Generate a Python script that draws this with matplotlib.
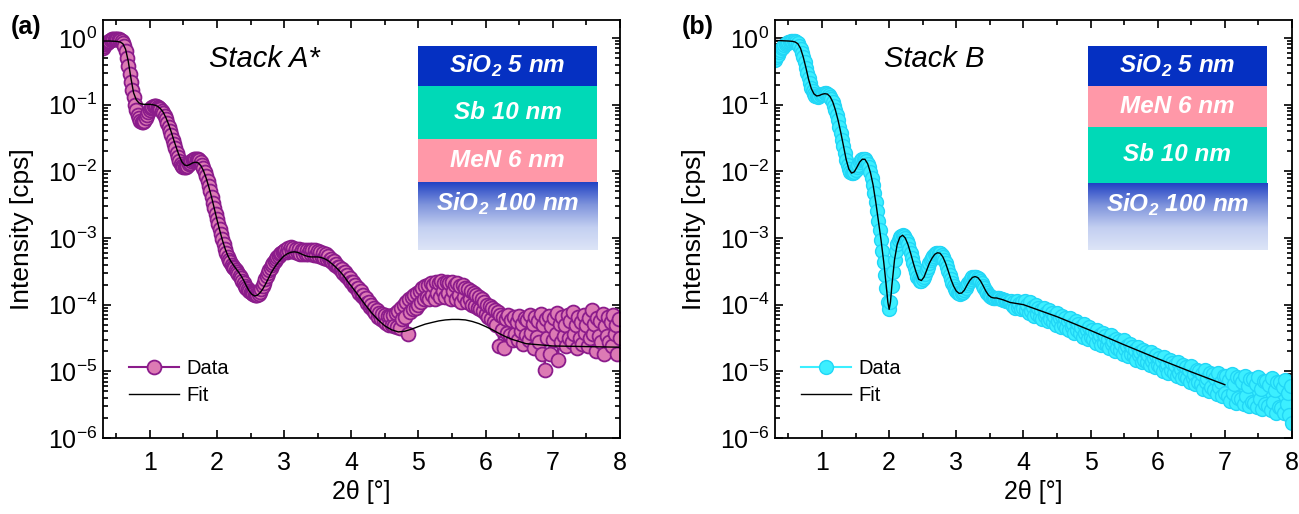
import matplotlib.pyplot as plt
import matplotlib.ticker as ticker
from matplotlib.colors import LinearSegmentedColormap
import numpy as np

plt.rcParams['font.family'] = ['Liberation Sans', 'DejaVu Sans']

# scan: 2theta from 0.30 deg in 0.02 deg steps
scan_start = 0.30
scan_step = 0.02

# ---- Stack A* : measured reflectivity (one value per scan step) ----
ya_data = [
    0.70, 0.75, 0.80, 0.84, 0.88, 0.91, 0.93, 0.95, 0.96, 0.97, 0.97, 0.96, 0.95, 0.93, 0.90, 0.85,
    0.76, 0.64, 0.50, 0.38, 0.29, 0.22, 0.165, 0.13, 0.10, 0.082, 0.070, 0.062, 0.057, 0.054, 0.054, 0.057, 0.063, 0.070, 0.077, 0.083,
    0.088, 0.092, 0.094, 0.095, 0.095, 0.093, 0.090, 0.086, 0.080, 0.074, 0.067, 0.060, 0.053, 0.046, 0.040, 0.035, 0.030, 0.026, 0.022, 0.019,
    0.0165, 0.0145, 0.013, 0.0122, 0.0118, 0.0117, 0.0118, 0.0122, 0.0128, 0.0135, 0.0142, 0.0148, 0.0152, 0.0155, 0.0155, 0.0152, 0.0147, 0.0138, 0.0126, 0.0112,
    0.0098, 0.0085, 0.0072, 0.0060, 0.0050, 0.0041, 0.0034, 0.0028, 0.0023, 0.0019, 0.0016, 0.00135, 0.00113, 0.00095, 0.00080, 0.00068, 0.00059, 0.00052, 0.00047, 0.00043,
    4.0e-4, 3.7e-4, 3.5e-4, 3.3e-4, 3.1e-4, 2.9e-4, 2.7e-4, 2.5e-4, 2.3e-4, 2.1e-4, 1.9e-4, 1.8e-4, 1.7e-4, 1.6e-4, 1.55e-4, 1.5e-4, 1.45e-4, 1.4e-4, 1.38e-4, 1.4e-4,
    1.45e-4, 1.55e-4, 1.7e-4, 1.9e-4, 2.1e-4, 2.4e-4, 2.7e-4, 3.0e-4, 3.3e-4, 3.6e-4, 3.9e-4, 4.2e-4, 4.5e-4, 4.8e-4, 5.1e-4, 5.4e-4, 5.7e-4, 5.9e-4, 6.1e-4, 6.3e-4,
    6.6e-4, 6.2e-4, 7.0e-4, 6.4e-4, 7.2e-4, 6.3e-4, 7.0e-4, 6.1e-4, 6.9e-4, 6.0e-4, 6.8e-4, 5.8e-4, 6.6e-4, 5.7e-4, 6.6e-4, 5.8e-4, 6.7e-4, 5.7e-4, 6.6e-4, 5.8e-4,
    6.6e-4, 5.6e-4, 6.5e-4, 5.5e-4, 6.4e-4, 5.4e-4, 6.2e-4, 5.2e-4, 6.0e-4, 5.0e-4, 5.7e-4, 4.8e-4, 5.3e-4, 4.6e-4, 4.9e-4, 4.3e-4, 4.5e-4, 4.0e-4, 4.1e-4, 3.7e-4,
    3.7e-4, 3.3e-4, 3.4e-4, 3.0e-4, 3.1e-4, 2.7e-4, 2.8e-4, 2.4e-4, 2.5e-4, 2.2e-4, 2.2e-4, 1.9e-4, 2.0e-4, 1.7e-4, 1.8e-4, 1.5e-4, 1.6e-4, 1.35e-4, 1.4e-4, 1.2e-4,
    1.25e-4, 1.05e-4, 1.1e-4, 9.2e-5, 1.0e-4, 8.2e-5, 9.0e-5, 7.4e-5, 8.2e-5, 6.6e-5, 7.6e-5, 6.0e-5, 7.2e-5, 5.6e-5, 7.0e-5, 5.3e-5, 6.8e-5, 5.0e-5, 6.8e-5, 5.0e-5,
    7.0e-5, 4.8e-5, 7.5e-5, 4.6e-5, 8.0e-5, 4.5e-5, 8.8e-5, 6.0e-5, 1.0e-4, 6.5e-5, 1.1e-4, 3.6e-5, 1.2e-4, 7.8e-5, 1.3e-4, 8.5e-5, 1.4e-4, 9.0e-5, 1.5e-4, 1.0e-4,
    1.6e-4, 1.1e-4, 1.8e-4, 1.2e-4, 1.9e-4, 1.3e-4, 2.0e-4, 1.2e-4, 2.1e-4, 1.4e-4, 2.0e-4, 1.2e-4, 2.2e-4, 1.5e-4, 2.1e-4, 1.3e-4, 2.3e-4, 1.6e-4, 2.1e-4, 1.3e-4,
    2.2e-4, 1.5e-4, 2.1e-4, 1.2e-4, 2.2e-4, 1.6e-4, 2.0e-4, 1.2e-4, 2.1e-4, 1.4e-4, 1.9e-4, 1.1e-4, 2.0e-4, 1.3e-4, 1.8e-4, 1.1e-4, 1.7e-4, 1.2e-4, 1.6e-4, 1.0e-4,
    1.5e-4, 9.5e-5, 1.4e-4, 9.0e-5, 1.3e-4, 8.5e-5, 1.2e-4, 8.0e-5, 1.1e-4, 7.2e-5, 1.0e-4, 6.5e-5, 9.5e-5, 6.0e-5, 8.8e-5, 5.5e-5, 8.2e-5, 5.0e-5, 7.8e-5, 2.4e-5,
    7.0e-5, 4.2e-5, 6.5e-5, 2.2e-5, 6.0e-5, 3.8e-5, 7.0e-5, 3.5e-5, 5.8e-5, 3.0e-5, 6.5e-5, 3.6e-5, 5.5e-5, 3.0e-5, 6.8e-5, 4.0e-5, 5.2e-5, 2.6e-5, 6.2e-5, 3.5e-5,
    5.8e-5, 3.0e-5, 7.0e-5, 3.8e-5, 5.2e-5, 2.2e-5, 6.5e-5, 3.3e-5, 5.6e-5, 2.8e-5, 7.2e-5, 1.8e-5, 5.0e-5, 1.05e-5, 6.0e-5, 3.2e-5, 6.8e-5, 1.8e-5, 4.8e-5, 3.0e-5,
    6.2e-5, 3.6e-5, 7.5e-5, 1.5e-5, 5.2e-5, 2.8e-5, 6.6e-5, 3.4e-5, 5.0e-5, 2.4e-5, 7.0e-5, 3.2e-5, 5.6e-5, 2.8e-5, 7.8e-5, 3.6e-5, 5.0e-5, 2.2e-5, 6.6e-5, 3.2e-5,
    5.4e-5, 2.6e-5, 7.0e-5, 3.8e-5, 5.0e-5, 2.4e-5, 6.2e-5, 3.2e-5, 8.2e-5, 3.6e-5, 5.2e-5, 2.0e-5, 6.4e-5, 3.4e-5, 5.6e-5, 2.8e-5, 7.2e-5, 1.8e-5, 4.8e-5, 3.4e-5,
    6.6e-5, 2.8e-5, 5.4e-5, 2.4e-5, 7.0e-5, 3.6e-5, 5.0e-5, 1.8e-5, 6.0e-5, 3.2e-5,
]

# ---- Stack A* : model fit ----
xa_fit = [0.30, 0.40, 0.50, 0.56, 0.60, 0.64, 0.68, 0.72, 0.76, 0.80, 0.84, 0.88, 0.92, 0.96,
          1.00, 1.04, 1.08, 1.12, 1.16, 1.20, 1.24, 1.28, 1.32, 1.36, 1.40, 1.44, 1.48, 1.52,
          1.56, 1.60, 1.64, 1.68, 1.72, 1.76, 1.80, 1.84, 1.88, 1.92, 1.96, 2.00, 2.04, 2.08,
          2.12, 2.16, 2.20, 2.24, 2.28, 2.32, 2.36, 2.40, 2.44, 2.48, 2.52, 2.56, 2.60, 2.64,
          2.68, 2.72, 2.76, 2.80, 2.84, 2.88, 2.92, 2.96, 3.00, 3.05, 3.10, 3.15, 3.20, 3.25,
          3.30, 3.35, 3.40, 3.45, 3.50, 3.55, 3.60, 3.65, 3.70, 3.75, 3.80, 3.85, 3.90, 3.95,
          4.00, 4.10, 4.20, 4.30, 4.40, 4.50, 4.60, 4.70, 4.80, 4.90, 5.00, 5.10, 5.20, 5.30,
          5.40, 5.50, 5.60, 5.70, 5.80, 5.90, 6.00, 6.10, 6.20, 6.30, 6.40, 6.50, 6.60, 6.80,
          7.00, 7.50, 8.00]
ya_fit = [0.90, 0.90, 0.89, 0.87, 0.82, 0.68, 0.45, 0.25, 0.15, 0.118, 0.106, 0.102, 0.101, 0.101,
          0.101, 0.100, 0.098, 0.094, 0.087, 0.077, 0.064, 0.051, 0.039, 0.029, 0.022, 0.017, 0.0138, 0.0124,
          0.0122, 0.0127, 0.0134, 0.0137, 0.0134, 0.0122, 0.0102, 0.0079, 0.0058, 0.0041, 0.0028, 0.0019, 0.00132, 0.00094,
          7.0e-4, 5.5e-4, 4.6e-4, 4.0e-4, 3.5e-4, 3.1e-4, 2.7e-4, 2.3e-4, 1.9e-4, 1.6e-4, 1.43e-4, 1.35e-4, 1.38e-4, 1.5e-4,
          1.7e-4, 2.0e-4, 2.4e-4, 2.9e-4, 3.4e-4, 3.9e-4, 4.4e-4, 4.9e-4, 5.4e-4, 5.8e-4, 6.1e-4, 6.2e-4, 6.1e-4, 5.8e-4,
          5.5e-4, 5.3e-4, 5.2e-4, 5.2e-4, 5.2e-4, 5.1e-4, 4.9e-4, 4.6e-4, 4.2e-4, 3.8e-4, 3.4e-4, 3.0e-4, 2.6e-4, 2.2e-4,
          1.9e-4, 1.4e-4, 1.02e-4, 7.6e-5, 5.9e-5, 4.8e-5, 4.2e-5, 3.9e-5, 4.0e-5, 4.3e-5, 4.7e-5, 5.1e-5, 5.4e-5, 5.7e-5,
          5.9e-5, 6.0e-5, 6.0e-5, 5.9e-5, 5.6e-5, 5.2e-5, 4.7e-5, 4.2e-5, 3.7e-5, 3.3e-5, 3.0e-5, 2.8e-5, 2.6e-5, 2.5e-5,
          2.4e-5, 2.35e-5, 2.3e-5]

# ---- Stack B : measured reflectivity (one value per scan step) ----
yb_data = [
    0.47, 0.51, 0.56, 0.61, 0.66, 0.70, 0.74, 0.78, 0.81, 0.84, 0.86, 0.88, 0.89, 0.90, 0.90, 0.89,
    0.87, 0.83, 0.77, 0.69, 0.60, 0.51, 0.43, 0.36, 0.30, 0.25, 0.21, 0.18, 0.16, 0.145, 0.137, 0.133, 0.132, 0.134, 0.138, 0.142,
    0.145, 0.147, 0.147, 0.145, 0.140, 0.132, 0.122, 0.110, 0.097, 0.083, 0.070, 0.058, 0.047, 0.038, 0.030, 0.024, 0.019, 0.015, 0.0125, 0.0108,
    0.0098, 0.0094, 0.0094, 0.0098, 0.0105, 0.0115, 0.0126, 0.0137, 0.0146, 0.0152, 0.0154, 0.0151, 0.0143, 0.0130, 0.0115, 0.0097, 0.0080, 0.0063, 0.0048, 0.0035,
    0.0025, 0.0018, 0.0013, 9.2e-4, 6.4e-4, 4.3e-4, 2.8e-4, 1.8e-4, 1.1e-4, 8.5e-5, 1.1e-4, 1.9e-4, 3.1e-4, 4.7e-4, 6.4e-4, 8.0e-4, 9.3e-4, 1.03e-3, 1.08e-3, 1.1e-3,
    1.07e-3, 1.0e-3, 9.1e-4, 8.0e-4, 6.9e-4, 5.9e-4, 5.0e-4, 4.2e-4, 3.6e-4, 3.1e-4, 2.6e-4, 2.4e-4, 2.3e-4, 2.3e-4, 2.4e-4, 2.6e-4, 2.9e-4, 3.3e-4, 3.7e-4, 4.2e-4,
    4.6e-4, 5.0e-4, 5.4e-4, 5.7e-4, 5.9e-4, 6.0e-4, 6.0e-4, 5.9e-4, 5.6e-4, 5.2e-4, 4.7e-4, 4.2e-4, 3.7e-4, 3.2e-4, 2.8e-4, 2.4e-4, 2.1e-4, 1.9e-4, 1.7e-4, 1.6e-4,
    1.52e-4, 1.48e-4, 1.47e-4, 1.49e-4, 1.55e-4, 1.65e-4, 1.8e-4, 1.96e-4, 2.13e-4, 2.3e-4, 2.45e-4, 2.56e-4, 2.62e-4, 2.64e-4, 2.62e-4, 2.55e-4, 2.43e-4, 2.28e-4, 2.1e-4, 1.92e-4,
    1.75e-4, 1.6e-4, 1.48e-4, 1.39e-4, 1.33e-4, 1.29e-4, 1.27e-4, 1.26e-4, 1.26e-4, 1.26e-4, 1.25e-4, 1.24e-4, 1.22e-4, 1.2e-4, 1.18e-4, 1.16e-4, 1.14e-4, 1.12e-4, 1.1e-4, 1.08e-4,
    1.13e-4, 9.5e-5, 1.08e-4, 9.0e-5, 1.14e-4, 9.2e-5, 1.01e-4, 8.6e-5, 1.08e-4, 9.0e-5,
    1.12e-4, 8.3e-5, 1.0e-4, 7.4e-5, 1.1e-4, 8.1e-5, 9.1e-5, 6.8e-5, 9.8e-5, 7.2e-5,
    9.0e-5, 6.6e-5, 8.2e-5, 6.0e-5, 9.0e-5, 6.7e-5, 7.6e-5, 5.6e-5, 8.2e-5, 6.0e-5,
    7.5e-5, 5.5e-5, 6.8e-5, 5.0e-5, 7.6e-5, 5.6e-5, 6.3e-5, 4.6e-5, 6.8e-5, 5.0e-5,
    6.2e-5, 4.5e-5, 5.7e-5, 4.1e-5, 6.3e-5, 4.7e-5, 5.2e-5, 3.8e-5, 5.6e-5, 4.1e-5,
    5.1e-5, 3.7e-5, 4.6e-5, 3.3e-5, 5.1e-5, 3.8e-5, 4.2e-5, 3.1e-5, 4.6e-5, 3.3e-5,
    4.2e-5, 3.1e-5, 3.8e-5, 2.7e-5, 4.2e-5, 3.1e-5, 3.5e-5, 2.5e-5, 3.8e-5, 2.7e-5,
    3.4e-5, 2.5e-5, 3.1e-5, 2.2e-5, 3.5e-5, 2.6e-5, 2.85e-5, 2.05e-5, 3.1e-5, 2.25e-5,
    2.85e-5, 2.1e-5, 2.6e-5, 1.85e-5, 2.9e-5, 2.15e-5, 2.4e-5, 1.7e-5, 2.6e-5, 1.85e-5,
    2.35e-5, 1.7e-5, 2.1e-5, 1.5e-5, 2.35e-5, 1.75e-5, 1.95e-5, 1.4e-5, 2.1e-5, 1.5e-5,
    1.95e-5, 1.4e-5, 1.75e-5, 1.25e-5, 1.95e-5, 1.45e-5, 1.6e-5, 1.15e-5, 1.75e-5, 1.25e-5,
    1.6e-5, 1.15e-5, 1.45e-5, 1.0e-5, 1.65e-5, 1.15e-5, 1.3e-5, 9.5e-6, 1.5e-5, 1.05e-5,
    1.35e-5, 9.5e-6, 1.25e-5, 8.5e-6, 1.4e-5, 9.5e-6, 1.1e-5, 8.0e-6, 1.25e-5, 8.5e-6,
    1.15e-5, 8.0e-6, 1.05e-5, 7.0e-6, 1.2e-5, 8.0e-6, 9.0e-6, 6.5e-6, 1.05e-5, 7.0e-6,
    1.0e-5, 6.5e-6, 9.0e-6, 5.5e-6, 1.05e-5, 6.8e-6, 8.0e-6, 5.0e-6, 9.5e-6, 5.8e-6,
    9.0e-6, 5.2e-6, 8.0e-6, 4.5e-6, 9.5e-6, 5.8e-6, 7.0e-6, 4.2e-6, 8.5e-6, 4.8e-6,
    8.5e-6, 4.2e-6, 7.5e-6, 3.6e-6, 9.0e-6, 4.8e-6, 6.5e-6, 3.4e-6, 8.2e-6, 4.0e-6,
    8.0e-6, 3.8e-6, 7.0e-6, 3.2e-6, 8.5e-6, 4.2e-6, 6.0e-6, 3.0e-6, 7.8e-6, 3.5e-6,
    7.6e-6, 3.4e-6, 6.5e-6, 2.9e-6, 8.2e-6, 3.8e-6, 5.5e-6, 2.7e-6, 7.2e-6, 3.2e-6,
    7.2e-6, 3.0e-6, 6.2e-6, 2.6e-6, 8.0e-6, 3.5e-6, 5.2e-6, 2.4e-6, 6.8e-6, 2.9e-6,
    6.8e-6, 2.8e-6, 5.8e-6, 2.4e-6, 7.5e-6, 3.2e-6, 4.8e-6, 2.2e-6, 6.0e-6, 1.7e-6,
]

# ---- Stack B : model fit ----
xb_fit = [0.30, 0.40, 0.50, 0.56, 0.60, 0.64, 0.68, 0.72, 0.76, 0.80, 0.84, 0.88, 0.92, 0.96,
          1.00, 1.04, 1.08, 1.12, 1.16, 1.20, 1.24, 1.28, 1.32, 1.36, 1.40, 1.44, 1.48, 1.52,
          1.56, 1.60, 1.64, 1.68, 1.72, 1.76, 1.80, 1.84, 1.88, 1.92, 1.96, 1.98, 2.00, 2.02,
          2.04, 2.08, 2.12, 2.16, 2.20, 2.24, 2.28, 2.32, 2.36, 2.40, 2.44, 2.48, 2.52, 2.56,
          2.60, 2.64, 2.68, 2.72, 2.76, 2.80, 2.84, 2.88, 2.92, 2.96, 3.00, 3.04, 3.08, 3.12,
          3.16, 3.20, 3.24, 3.28, 3.32, 3.36, 3.40, 3.44, 3.48, 3.52, 3.56, 3.60, 3.70, 3.80,
          4.00, 4.50, 5.00, 5.50, 6.00, 6.50, 7.00]
yb_fit = [0.92, 0.91, 0.90, 0.89, 0.87, 0.82, 0.70, 0.52, 0.36, 0.24, 0.175, 0.145, 0.135, 0.137,
          0.143, 0.146, 0.144, 0.132, 0.110, 0.083, 0.058, 0.038, 0.024, 0.015, 0.0108, 0.0094, 0.0098, 0.0115,
          0.0137, 0.0152, 0.0151, 0.0130, 0.0097, 0.0063, 0.0035, 0.0018, 9.2e-4, 4.3e-4, 1.8e-4, 1.1e-4, 8.5e-5, 1.1e-4,
          1.9e-4, 4.7e-4, 8.0e-4, 1.03e-3, 1.1e-3, 1.0e-3, 8.0e-4, 5.9e-4, 4.2e-4, 3.1e-4, 2.4e-4, 2.3e-4, 2.6e-4, 3.3e-4,
          4.2e-4, 5.0e-4, 5.7e-4, 6.0e-4, 5.9e-4, 5.2e-4, 4.2e-4, 3.2e-4, 2.4e-4, 1.9e-4, 1.6e-4, 1.48e-4, 1.49e-4, 1.65e-4,
          1.96e-4, 2.3e-4, 2.56e-4, 2.64e-4, 2.55e-4, 2.28e-4, 1.92e-4, 1.6e-4, 1.39e-4, 1.29e-4, 1.26e-4, 1.26e-4, 1.18e-4, 1.08e-4,
          1.0e-4, 6.6e-5, 4.1e-5, 2.5e-5, 1.55e-5, 9.8e-6, 6.3e-6]

# axis ticks
x_major = [1, 2, 3, 4, 5, 6, 7, 8]
x_minor = [0.5, 1.5, 2.5, 3.5, 4.5, 5.5, 6.5, 7.5]
y_decades = [1e-6, 1e-5, 1e-4, 1e-3, 1e-2, 1e-1, 1e0]

# layer stacks: (label, colour, relative thickness drawn); None -> substrate gradient
layers_a = [('SiO$_\\mathregular{2}$ 5 nm', '#0530c2', 40),
            ('Sb 10 nm', '#00d9b7', 53),
            ('MeN 6 nm', '#ff98a8', 43),
            ('SiO$_\\mathregular{2}$ 100 nm', None, 68)]
layers_b = [('SiO$_\\mathregular{2}$ 5 nm', '#0530c2', 40),
            ('MeN 6 nm', '#ff98a8', 41),
            ('Sb 10 nm', '#00d9b7', 56),
            ('SiO$_\\mathregular{2}$ 100 nm', None, 67)]

xa_data = np.round(scan_start + scan_step * np.arange(len(ya_data)), 2)
xb_data = np.round(scan_start + scan_step * np.arange(len(yb_data)), 2)

W, H = 1299, 514
fig = plt.figure(figsize=(W / 100, H / 100), dpi=100)
ax_a = fig.add_axes([102.7 / W, (H - 438) / H, 517.3 / W, 418 / H])
ax_b = fig.add_axes([775 / W, (H - 438) / H, 517 / W, 418 / H])

sio2_cmap = LinearSegmentedColormap.from_list(
    'sio2', ['#2142c4', '#7f94dc', '#c3cff1', '#dde5f7'])


def draw_stack(ax, layers, x0):
    box = ax.inset_axes([x0, 0.45, 0.347, 0.488])
    total = sum(l[2] for l in layers)
    box.axis('off')
    top = total
    for label, col, h in layers:
        if col is None:
            grad = np.linspace(0, 1, 256).reshape(-1, 1)
            box.imshow(grad, aspect='auto', cmap=sio2_cmap,
                       extent=[0, 1, top - h, top], origin='upper')
            ty = top - 0.33 * h
        else:
            box.add_patch(plt.Rectangle((0, top - h), 1, h, color=col, lw=0))
            ty = top - h / 2
        box.text(0.5, ty, label, ha='center', va='center', color='white',
                 fontsize=17.5, fontweight='bold', fontstyle='italic')
        top -= h
    box.set_xlim(0, 1)
    box.set_ylim(0, total)


def style_axes(ax):
    ax.set_yscale('log')
    ax.set_xticks(x_major)
    ax.set_xticks(x_minor, minor=True)
    ax.set_yticks(y_decades)
    minors = [m * d for d in y_decades[:-1] for m in range(2, 10)]
    ax.set_yticks(minors, minor=True)
    ax.yaxis.set_minor_formatter(ticker.NullFormatter())
    ax.set_xlim(0.3, 8)
    ax.set_ylim(1e-6, 1.86)
    ax.tick_params(which='both', direction='in', top=True, right=True, width=1.2)
    ax.tick_params(which='major', length=6, labelsize=18)
    ax.tick_params(axis='y', which='major', pad=4)
    ax.tick_params(axis='x', which='major', pad=9)
    ax.tick_params(which='minor', length=3.5)
    for s in ax.spines.values():
        s.set_linewidth(1.3)
    ax.set_xlabel('2θ [°]', fontsize=18)
    ax.xaxis.set_label_coords(0.5, -0.1)
    ax.set_ylabel('Intensity [cps]', fontsize=19)
    ax.yaxis.set_label_coords(-0.133, 0.5)


# panel (a)
ax_a.plot(xa_data, ya_data, '-o', color='#8b1c8b', mfc='#dc7ab4', mec='#8b1c8b',
          ms=10, mew=1.3, lw=1.5, label='Data')
ax_a.plot(xa_fit, ya_fit, color='black', lw=1.0, label='Fit')
style_axes(ax_a)
ax_a.text(0.205, 0.94, 'Stack A*', transform=ax_a.transAxes, fontsize=21,
          fontstyle='italic', va='top')
ax_a.legend(loc='lower left', bbox_to_anchor=(0.015, 0.035), frameon=False,
            fontsize=14.5, handlelength=2.5, handletextpad=0.35, labelspacing=0.4)
draw_stack(ax_a, layers_a, 0.6095)
fig.text(11 / W, 1 - 27 / H, '(a)', fontsize=18, fontweight='bold', va='center')

# panel (b)
ax_b.plot(xb_data, yb_data, '-o', color='#3cefff', mfc='#3cefff', mec='#22d6f6',
          ms=10, mew=1.0, lw=1.5, label='Data')
ax_b.plot(xb_fit, yb_fit, color='black', lw=1.0, label='Fit')
style_axes(ax_b)
ax_b.text(0.21, 0.94, 'Stack B', transform=ax_b.transAxes, fontsize=21,
          fontstyle='italic', va='top')
ax_b.legend(loc='lower left', bbox_to_anchor=(0.015, 0.035), frameon=False,
            fontsize=14.5, handlelength=2.5, handletextpad=0.35, labelspacing=0.4)
draw_stack(ax_b, layers_b, 0.605)
fig.text(682 / W, 1 - 27 / H, '(b)', fontsize=18, fontweight='bold', va='center')

fig.savefig('out.png', dpi=100)
